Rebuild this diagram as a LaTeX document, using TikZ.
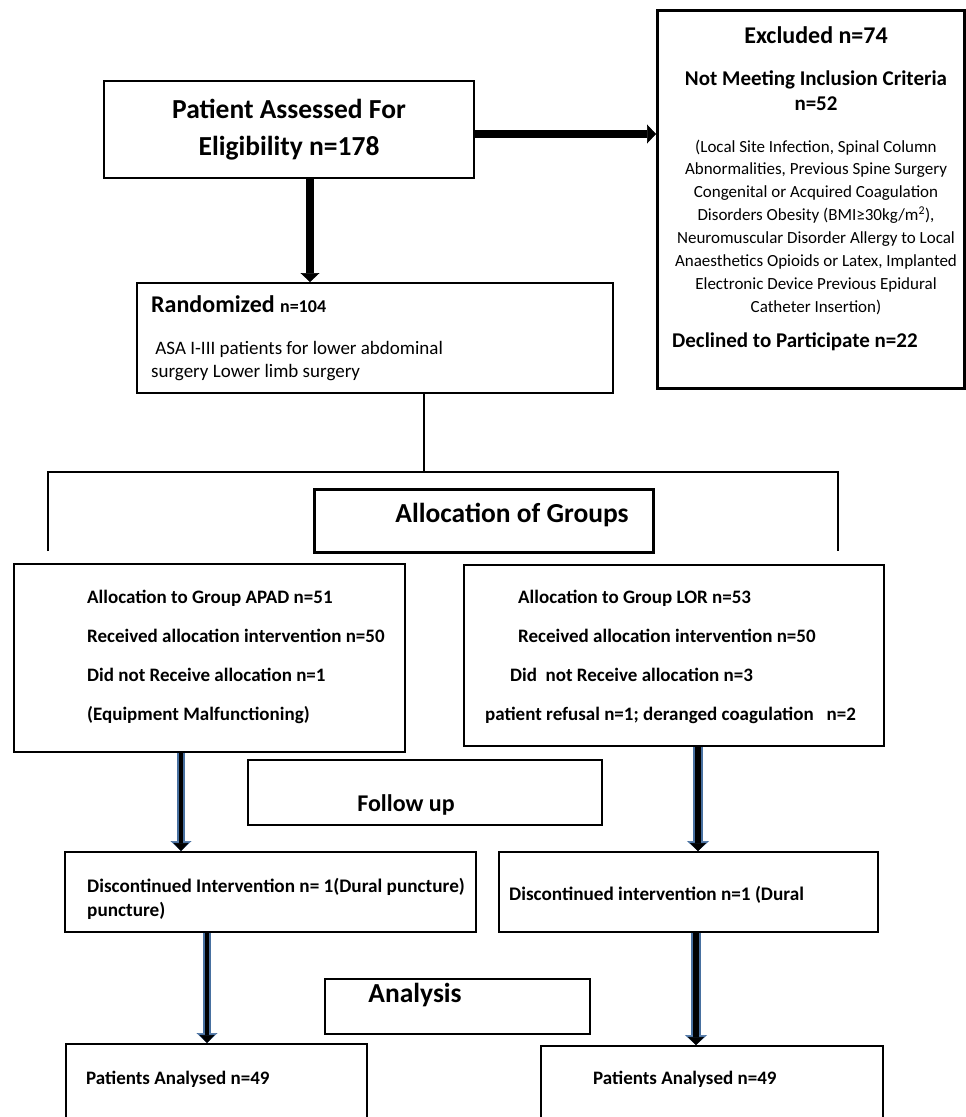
\documentclass[tikz,border=0pt]{standalone}
\usepackage{fontspec}
\setmainfont{Carlito}
\usetikzlibrary{arrows.meta}
\definecolor{steel}{RGB}{72,112,160}
\tikzset{
  box/.style={draw, line width=2pt, anchor=north west, inner sep=0pt},
  lbl/.style={inner sep=0pt, anchor=base west},
  heavy/.style={line width=7.5pt, -{Triangle[length=9pt,width=19pt,line width=0.5pt]}},
  flowthin/.style={line width=4pt, -{Triangle[length=8pt,width=15pt,line width=0.5pt]},
    preaction={draw=steel, line width=8pt, -{Triangle[length=10pt,width=21pt,line width=0.5pt]}}},
  flowthick/.style={line width=6pt, -{Triangle[length=8pt,width=16pt,line width=0.5pt]},
    preaction={draw=steel, line width=10pt, -{Triangle[length=10pt,width=22pt,line width=0.5pt]}}},
  thinline/.style={line width=1.4pt},
  grptext/.style={lbl, font=\fontsize{19}{23}\selectfont\bfseries},
  disctext/.style={lbl, font=\fontsize{19.2}{23}\selectfont\bfseries},
  stagetext/.style={lbl, anchor=base, font=\fontsize{27.5}{33}\selectfont\bfseries},
}
\begin{document}
\begin{tikzpicture}[x=1pt,y=-1pt]
	\useasboundingbox (0,0) rectangle (966,1117);
	\clip (0,0) rectangle (966,1117);
	% enrolment
	\node[box, minimum width=370pt, minimum height=97pt, align=center,
	      font=\fontsize{27.5}{37}\selectfont\bfseries] (assess) at (103,80) {Patient Assessed For\\Eligibility n=178};
	\node[box, line width=2.5pt, minimum width=307pt, minimum height=378pt] (excl) at (656,9) {};
	\node[lbl, anchor=base, font=\fontsize{24}{28}\selectfont\bfseries] (exclHead) at (816,43) {Excluded n=74};
	\node[lbl, anchor=base, font=\fontsize{21}{25}\selectfont\bfseries] (critHead) at (816,85) {Not Meeting Inclusion Criteria};
	\node[lbl, anchor=base, font=\fontsize{21}{25}\selectfont\bfseries] (critN) at (816,110) {n=52};
	\foreach \txt [count=\i from 0] in {{(Local Site Infection, Spinal Column},{Abnormalities, Previous Spine Surgery},
	    {Congenital or Acquired Coagulation},{Disorders Obesity (BMI≥30kg/m\textsuperscript{2}),},
	    {Neuromuscular Disorder Allergy to Local},{Anaesthetics Opioids or Latex, Implanted},
	    {Electronic Device Previous Epidural},{Catheter Insertion)}}
		\node[lbl, anchor=base, font=\fontsize{17}{22}\selectfont] (crit-\i) at (816,{152+22.9*\i}) {\txt};
	\node[lbl, font=\fontsize{21}{25}\selectfont\bfseries] (declined) at (672,347) {Declined to Participate n=22};
	\node[box, minimum width=476pt, minimum height=110pt] (rand) at (136,282) {};
	\node[lbl] (randHead) at (151,312) {{\fontsize{24}{28}\selectfont\bfseries Randomized }{\fontsize{18}{22}\selectfont\bfseries n=104}};
	\node[lbl, font=\fontsize{19}{23}\selectfont] (randL1) at (151,354) {\ ASA I-III patients for lower abdominal};
	\node[lbl, font=\fontsize{19}{23}\selectfont] (randL2) at (151,377) {surgery Lower limb surgery};
	\coordinate (hArrow) at (0,134);
	\coordinate (vArrow) at (310,0);
	\draw[heavy] (assess.east |- hArrow) -- (excl.west |- hArrow);
	\draw[heavy] (assess.south -| vArrow) -- (rand.north -| vArrow);
	% allocation
	\coordinate (split) at (424,472);
	\coordinate (legA) at (48,551);
	\coordinate (legB) at (838,551);
	\draw[thinline] (rand.south -| split) -- (split);
	\draw[thinline] (legA) |- (split) -| (legB);
	\node[box, line width=2.5pt, minimum width=339pt, minimum height=63pt] (alloc) at (313,488) {};
	\node[stagetext] (allocText) at (512,522) {Allocation of Groups};
	\node[box, minimum width=391pt, minimum height=188pt] (grpA) at (13,563) {};
	\foreach \txt [count=\i from 0] in {{Allocation to Group APAD n=51},{Received allocation intervention n=50},
	    {Did not Receive allocation n=1},{(Equipment Malfunctioning)}}
		\node[grptext] (grpA-\i) at (87,{603+39*\i}) {\txt};
	\node[box, minimum width=420pt, minimum height=181pt] (grpB) at (463,564) {};
	\foreach \x/\txt [count=\i from 0] in {518/{Allocation to Group LOR n=53},518/{Received allocation intervention n=50},
	    510/{Did\ \ not Receive allocation n=3},485/{patient refusal n=1; deranged coagulation\ \ \ n=2}}
		\node[grptext] (grpB-\i) at (\x,{603+39*\i}) {\txt};
	% follow up
	\node[box, minimum width=354pt, minimum height=65pt] (fu) at (247,759) {};
	\node[lbl, anchor=base, font=\fontsize{24}{28}\selectfont\bfseries] (fuText) at (406,811) {Follow up};
	\node[box, minimum width=411pt, minimum height=80pt] (discA) at (64,851) {};
	\node[disctext] (discA-0) at (87,892) {Discontinued Intervention n= 1(Dural puncture)};
	\node[disctext] (discA-1) at (87,916) {puncture)};
	\node[box, minimum width=379pt, minimum height=80pt] (discB) at (498,851) {};
	\node[disctext] (discB-0) at (509,900) {Discontinued intervention n=1 (Dural};
	\coordinate (colA1) at (181,0);
	\coordinate (colB1) at (698,0);
	\draw[flowthin] (grpA.south -| colA1) -- (discA.north -| colA1);
	\draw[flowthick] (grpB.south -| colB1) -- (discB.north -| colB1);
	% analysis
	\node[box, minimum width=265pt, minimum height=55pt] (ana) at (324,978) {};
	\node[stagetext] (anaText) at (415,1002) {Analysis};
	\node[box, minimum width=301pt, minimum height=120pt] (resA) at (65,1043) {};
	\node[box, minimum width=342pt, minimum height=120pt] (resB) at (540,1045) {};
	\node[grptext] (resA-0) at (86,1084) {Patients Analysed n=49};
	\node[grptext] (resB-0) at (593,1084) {Patients Analysed n=49};
	\coordinate (colA2) at (207,0);
	\coordinate (colB2) at (696,0);
	\draw[flowthin] (discA.south -| colA2) -- (resA.north -| colA2);
	\draw[flowthick] (discB.south -| colB2) -- (resB.north -| colB2);
\end{tikzpicture}
\end{document}
